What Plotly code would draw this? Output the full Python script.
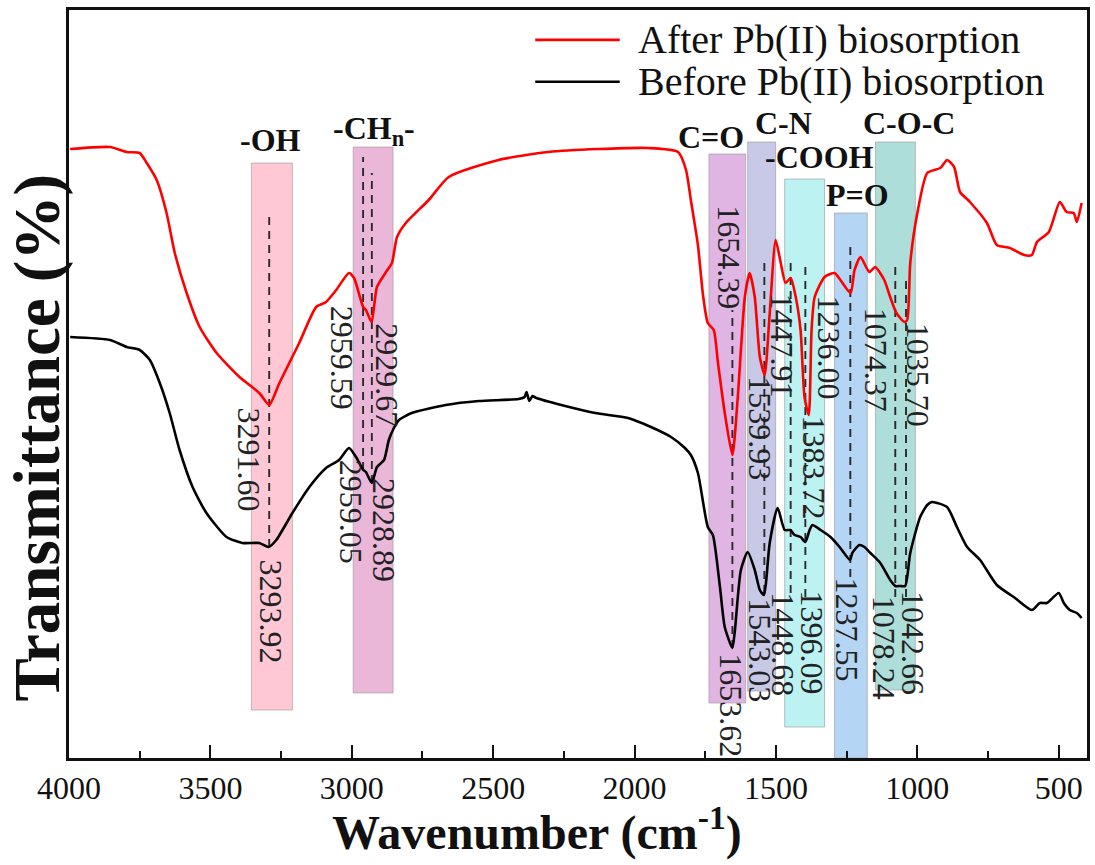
import plotly.graph_objects as go

# ---------------- data ----------------
wn_after = [3996, 3855, 3796, 3750, 3725, 3690, 3655, 3626, 3584, 3538, 3478, 3397, 3327, 3292, 3256,
            3186, 3126, 3091, 3055, 3010, 2992, 2960, 2950, 2930, 2911, 2879, 2858, 2840, 2809, 2728,
            2657, 2481, 2305, 2128, 1952, 1846, 1818, 1801, 1776, 1758, 1741, 1720, 1705, 1681, 1654,
            1635, 1610, 1593, 1575, 1557, 1540, 1522, 1501, 1483, 1466, 1448, 1430, 1413, 1399, 1384,
            1374, 1363, 1328, 1293, 1272, 1236, 1222, 1201, 1170, 1149, 1117, 1096, 1074, 1046, 1036,
            1025, 1000, 965, 919, 895, 870, 849, 814, 754, 719, 673, 623, 595, 577, 535,
            496, 472, 447, 436, 419]
t_after = [609, 611, 606, 605, 595, 578, 545, 505, 465, 431, 405, 381, 365, 353, 375,
           415, 451, 456, 468, 485, 480, 451, 448, 436, 471, 486, 495, 521, 535, 558,
           581, 598, 606, 609, 610, 606, 588, 558, 513, 463, 435, 428, 395, 345, 303,
           361, 461, 485, 461, 401, 383, 445, 518, 495, 475, 480, 461, 428, 361, 343,
           428, 461, 481, 485, 478, 465, 488, 501, 486, 491, 478, 461, 445, 436, 438,
           495, 545, 585, 590, 598, 591, 566, 556, 535, 513, 510, 503, 503, 516, 526,
           556, 546, 545, 536, 555]

wn_before = [3996, 3855, 3796, 3750, 3714, 3679, 3644, 3609, 3563, 3514, 3443, 3387, 3327, 3294, 3267,
             3210, 3150, 3091, 3045, 3010, 2985, 2959, 2950, 2929, 2911, 2886, 2869, 2851, 2833, 2788,
             2668, 2551, 2410, 2389, 2382, 2372, 2361, 2347, 2259, 2139, 2023, 1942, 1871, 1822, 1801,
             1776, 1741, 1723, 1698, 1681, 1654, 1645, 1624, 1600, 1575, 1557, 1543, 1536, 1522, 1494,
             1469, 1449, 1434, 1413, 1396, 1381, 1371, 1342, 1307, 1275, 1238, 1230, 1205, 1187, 1166,
             1131, 1096, 1078, 1060, 1043, 1025, 990, 965, 948, 895, 860, 824, 778, 719, 659,
             595, 567, 542, 500, 482, 461, 436, 419]
t_before = [421, 418, 411, 408, 398, 375, 345, 308, 271, 245, 221, 215, 215, 211, 218,
            245, 271, 290, 298, 310, 301, 288, 286, 275, 291, 298, 318, 330, 338, 345,
            353, 357, 359, 361, 366, 357, 362, 360, 353, 345, 340, 331, 321, 310, 303,
            285, 231, 223, 171, 131, 110, 128, 188, 206, 188, 168, 163, 173, 215, 250,
            228, 228, 223, 221, 216, 228, 233, 228, 221, 211, 198, 205, 213, 211, 205,
            195, 178, 172, 172, 172, 205, 241, 253, 256, 251, 231, 211, 198, 173, 161,
            148, 155, 155, 165, 155, 148, 145, 140]

series_names = ["After Pb(II) biosorption", "Before Pb(II) biosorption"]

# functional-group bands: name, wavenumber span, transmittance span
band_names = ["-OH", "-CH<sub>n</sub>-", "C=O", "C-N", "-COOH", "P=O", "C-O-C"]
band_wn = [(3355, 3210), (2995, 2854), (1737, 1607), (1600, 1501), (1469, 1328), (1293, 1177), (1148, 1007)]
band_t = [(48, 595), (65, 611), (55, 604), (67, 616), (31, 579), (0, 545), (68, 616)]

# peak positions marked with dashed lines
peak_wn = [3292, 2960, 2929, 1654, 1541, 1448, 1396, 1237, 1078, 1040]
peak_t = [(211, 546), (288, 601), (275, 585), (110, 448), (165, 500), (165, 501), (161, 495), (181, 511), (161, 495), (161, 481)]

# peak labels
peak_labels = ["3291.60", "3293.92", "2959.59", "2929.67", "2959.05", "2928.89", "1654.39", "1653.62",
               "1539.93", "1543.03", "1447.91", "1448.68", "1383.72", "1396.09", "1236.00", "1237.55",
               "1074.37", "1078.24", "1035.70", "1042.66"]

x_ticks = [4000, 3500, 3000, 2500, 2000, 1500, 1000, 500]
x_minor = [3750, 3250, 2750, 2250, 1750, 1250, 750]

# ---------------- layout positions / styles ----------------
band_colors = ["rgba(255,190,205,0.85)", "rgba(232,170,210,0.85)", "rgba(218,168,222,0.85)",
               "rgba(190,192,226,0.85)", "rgba(178,240,240,0.85)", "rgba(168,206,242,0.85)",
               "rgba(160,216,212,0.85)"]
band_head_pos = [(3288, 618), (2921, 628), (1730, 621), (1473, 635), (1346, 601), (1212, 563), (1029, 635)]
label_pos = [(3362, 298), (3284, 146), (3034, 400), (2876, 383), (3002, 246), (2886, 228), (1667, 501),
             (1660, 53), (1557, 330), (1557, 108), (1480, 413), (1476, 114), (1367, 291), (1371, 115),
             (1311, 410), (1247, 128), (1145, 398), (1117, 110), (997, 383), (1015, 115)]

FONT = "Liberation Serif, Times New Roman, serif"

fig = go.Figure()
fig.add_trace(go.Scatter(x=wn_after, y=t_after, mode="lines", name=series_names[0],
                         line=dict(color="#ff0000", width=2.6, shape="spline", smoothing=0.6)))
fig.add_trace(go.Scatter(x=wn_before, y=t_before, mode="lines", name=series_names[1],
                         line=dict(color="#000000", width=2.6, shape="spline", smoothing=0.6)))

shapes = []
for (x0, x1), (y0, y1), col in zip(band_wn, band_t, band_colors):
    shapes.append(dict(type="rect", xref="x", yref="y", x0=x0, x1=x1, y0=y0, y1=y1,
                       fillcolor=col, line=dict(color="rgba(150,150,150,0.6)", width=1), layer="below"))
for w, (y0, y1) in zip(peak_wn, peak_t):
    shapes.append(dict(type="line", xref="x", yref="y", x0=w, x1=w, y0=y0, y1=y1,
                       line=dict(color="#2a2a2a", width=1.9, dash="8px,6px"), layer="below"))
# manual legend line samples
shapes.append(dict(type="line", xref="paper", yref="paper", x0=0.458, x1=0.541, y0=0.960, y1=0.960,
                   line=dict(color="#ff0000", width=2.6)))
shapes.append(dict(type="line", xref="paper", yref="paper", x0=0.458, x1=0.541, y0=0.904, y1=0.904,
                   line=dict(color="#000000", width=2.6)))

annotations = []
for name, (x, y) in zip(band_names, band_head_pos):
    annotations.append(dict(x=x, y=y, xref="x", yref="y", text="<b>" + name + "</b>", showarrow=False,
                            font=dict(family=FONT, size=32, color="#111111")))
for txt, (x, y) in zip(peak_labels, label_pos):
    annotations.append(dict(x=x, y=y, xref="x", yref="y", text=txt, showarrow=False, textangle=90,
                            font=dict(family=FONT, size=32, color="#222222")))
for name, yp in zip(series_names, [0.960, 0.904]):
    annotations.append(dict(x=0.557, y=yp, xref="paper", yref="paper", text=name, showarrow=False,
                            xanchor="left", yanchor="middle",
                            font=dict(family=FONT, size=40, color="#111111")))
# axis titles
annotations.append(dict(x=0.46, y=-0.096, xref="paper", yref="paper", showarrow=False,
                        text="<b>Wavenumber (cm<sup>-1</sup>)</b>", xanchor="center", yanchor="middle",
                        font=dict(family=FONT, size=48, color="#111111")))
annotations.append(dict(x=-0.031, y=0.429, xref="paper", yref="paper", showarrow=False, textangle=-90,
                        text="<b>Transmittance (%)</b>", xanchor="center", yanchor="middle",
                        font=dict(family=FONT, size=65, color="#111111")))

fig.update_layout(
    width=1095, height=865, autosize=False,
    margin=dict(l=69, r=8, t=10, b=107),
    paper_bgcolor="white", plot_bgcolor="white",
    showlegend=False,
    shapes=shapes, annotations=annotations,
    xaxis=dict(range=[4000, 400], tickmode="array", tickvals=x_ticks,
               ticktext=[str(v) for v in x_ticks],
               ticks="inside", ticklen=13, tickwidth=2, tickcolor="#111111",
               minor=dict(ticks="inside", ticklen=7, tickwidth=2, tickcolor="#111111",
                          tickmode="array", tickvals=x_minor),
               showline=True, linecolor="#111111", linewidth=2.5, mirror=True,
               showgrid=False, zeroline=False, automargin=False,
               tickfont=dict(family=FONT, size=32, color="#111111")),
    yaxis=dict(range=[0, 748], showticklabels=False, ticks="", showgrid=False, zeroline=False,
               showline=True, linecolor="#111111", linewidth=2.5, mirror=True, automargin=False),
)

fig.write_html("out.html")
